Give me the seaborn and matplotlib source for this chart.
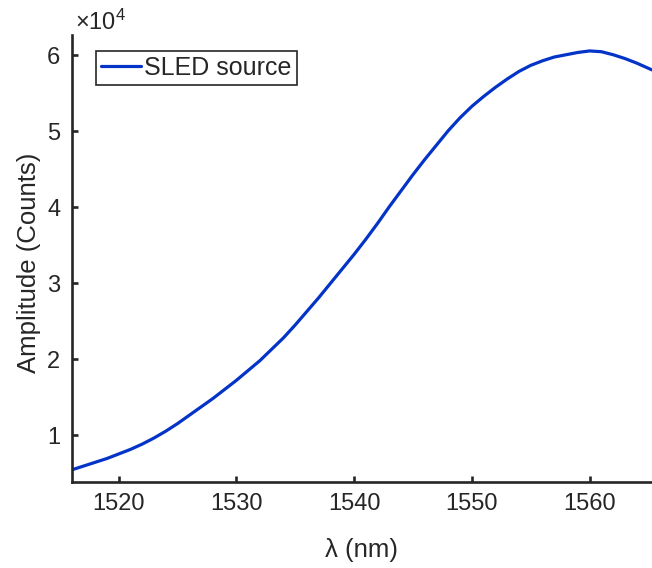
import matplotlib
matplotlib.use("Agg")
import matplotlib.pyplot as plt
from matplotlib.ticker import FuncFormatter
import seaborn as sns
import pandas as pd

# Wavelength (nm) and amplitude (counts)
wavelength_nm = [1516, 1517, 1518, 1519, 1520, 1521, 1522, 1523, 1524, 1525,
                 1526, 1527, 1528, 1529, 1530, 1531, 1532, 1533, 1534, 1535,
                 1536, 1537, 1538, 1539, 1540, 1541, 1542, 1543, 1544, 1545,
                 1546, 1547, 1548, 1549, 1550, 1551, 1552, 1553, 1554, 1555,
                 1556, 1557, 1558, 1559, 1560, 1561, 1562, 1563, 1564, 1565.3]
amplitude_counts = [5400, 5900, 6400, 6900, 7500, 8100, 8800, 9600, 10500, 11500,
                    12600, 13700, 14800, 16000, 17200, 18500, 19800, 21300, 22800, 24500,
                    26300, 28100, 30000, 31900, 33800, 35800, 37900, 40100, 42200, 44300,
                    46300, 48200, 50100, 51800, 53300, 54600, 55800, 56900, 57900, 58700,
                    59300, 59800, 60100, 60400, 60600, 60500, 60100, 59600, 59000, 58100]
series_label = "SLED source"
x_ticks = [1520, 1530, 1540, 1550, 1560]
y_ticks = [10000, 20000, 30000, 40000, 50000, 60000]

df = pd.DataFrame({"wavelength": wavelength_nm, "amplitude": amplitude_counts,
                   "series": series_label})

sns.set_style("white")
plt.rcParams["font.family"] = ["Liberation Sans", "DejaVu Sans"]
plt.rcParams["mathtext.fontset"] = "custom"
plt.rcParams["mathtext.rm"] = "Liberation Sans"
plt.rcParams["mathtext.it"] = "Liberation Sans:italic"

W, H = 652, 568
fig = plt.figure(figsize=(W / 100, H / 100), dpi=100)
left, right, top, bottom = 71.5, 652, 35, 481.7
ax = fig.add_axes([left / W, 1 - bottom / H, (right - left) / W, (bottom - top) / H])

line_color = "#0433c8"
sns.lineplot(data=df, x="wavelength", y="amplitude", hue="series",
             palette=[line_color], linewidth=2.3, ax=ax, legend=True)

ax.set_xlim(1516, 1565.3)
ax.set_ylim(3850, 62700)
ax.set_xticks(x_ticks)
ax.set_yticks(y_ticks)
ax.yaxis.set_major_formatter(FuncFormatter(lambda v, p: f"{v/1e4:g}"))

axis_col = "#262626"
for s in ["top", "right"]:
    ax.spines[s].set_visible(False)
for s in ["left", "bottom"]:
    ax.spines[s].set_color(axis_col)
    ax.spines[s].set_linewidth(1.9)
ax.tick_params(bottom=True, left=True, top=False, right=False,
               direction="in", length=4.5, width=1.9, colors=axis_col,
               labelsize=17, pad=8, labelcolor="#262626")

ax.set_xlabel("λ (nm)", fontsize=18.5, color="#262626")
ax.set_ylabel("Amplitude (Counts)", fontsize=18.5, color="#262626")
ax.xaxis.set_label_coords(0.5, -0.125)
ax.yaxis.set_label_coords(-0.052, 0.49)

fig.text(75 / W, 1 - 30 / H, r"$\times\mathregular{10^{4}}$", fontsize=17,
         color="#262626", ha="left", va="baseline")

leg = ax.legend(loc="upper left", bbox_to_anchor=(0.0417, 0.964), borderaxespad=0,
                fontsize=18, frameon=True, fancybox=False, framealpha=1,
                edgecolor="#262626", handlelength=1.6, handletextpad=0.15,
                borderpad=0.2)
leg.get_frame().set_linewidth(1.2)
for h in leg.get_lines():
    h.set_linewidth(2.3)

fig.savefig("out.png", dpi=100)
